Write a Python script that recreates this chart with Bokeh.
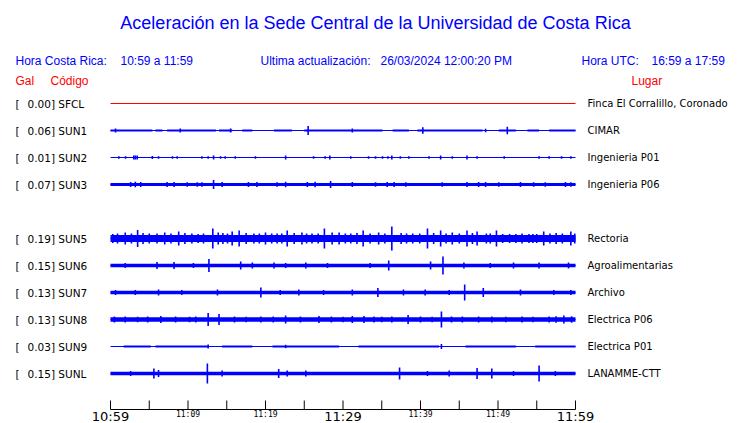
from bokeh.plotting import figure
from bokeh.models import Range1d, ColumnDataSource
from bokeh.core.properties import value
from bokeh.embed import file_html
from bokeh.resources import INLINE

# ---------------- data ----------------
codes = ["SFCL", "SUN1", "SUN2", "SUN3", "SUN5", "SUN6", "SUN7", "SUN8", "SUN9", "SUNL"]
rows = [0, 1, 2, 3, 5, 6, 7, 8, 9, 10]
gal = [0.00, 0.06, 0.01, 0.07, 0.19, 0.15, 0.13, 0.13, 0.03, 0.15]
places = ["Finca El Corralillo, Coronado", "CIMAR", "Ingenieria P01", "Ingenieria P06",
          "Rectoria", "Agroalimentarias", "Archivo", "Electrica P06", "Electrica P01",
          "LANAMME-CTT"]
# base (background) half-amplitude of each trace, 0 = plain line
base_amp = [0.0, 0.0, 0.0, 1.6, 3.5, 1.7, 1.7, 2.3, 0.0, 1.7]

# time axis (minutes after 10:59)
tick_minutes = [0, 5, 10, 15, 20, 25, 30, 35, 40, 45, 50, 55, 60]
big_tick_minutes = [0, 30, 60]
big_tick_labels = ["10:59", "11:29", "11:59"]
small_tick_minutes = [10, 20, 40, 50]
small_tick_labels = ["11:09", "11:19", "11:39", "11:49"]

# low-level activity blocks: start minute, end minute, half amplitude
sun1_blk_start = [0.0, 5.8, 7.3, 14.0, 17.0, 21.1, 25.0, 36.4, 39.6, 50.1, 53.8, 56.6]
sun1_blk_end = [5.4, 6.7, 13.6, 15.7, 18.3, 23.4, 35.1, 38.5, 48.0, 52.3, 55.3, 60.0]
sun1_blk_amp = [1.0] * 12
sun9_blk_start = [1.7, 5.8, 14.4, 20.9, 32.0, 45.8, 54.8]
sun9_blk_end = [5.2, 12.7, 18.3, 29.5, 42.4, 52.3, 60.0]
sun9_blk_amp = [0.9] * 7

# bursts: minute and half amplitude
sun1_sp_min = [0.65, 9.0, 15.5, 25.5, 31.2, 40.3, 48.4, 51.2]
sun1_sp_amp = [2.0, 2.0, 2.0, 4.5, 2.0, 3.3, 1.8, 3.7]
sun2_sp_min = [1.08, 1.94, 3.0, 3.2, 3.44, 5.4, 6.2, 8.0, 8.6, 11.8, 12.6, 13.3, 14.2, 14.8,
               16.1, 18.7, 22.6, 26.2, 27.7, 28.3, 31.0, 33.3, 34.2, 35.1, 35.8, 36.3, 37.4,
               38.5, 41.1, 42.6, 44.1, 46.0, 47.3, 50.8, 55.3, 56.6, 58.2, 59.4]
sun2_sp_amp = [1.2, 1.2, 2.0, 2.0, 2.0, 1.5, 1.2, 1.2, 1.2, 1.2, 1.2, 2.0, 1.2, 1.2,
               1.2, 1.2, 2.0, 1.2, 1.2, 2.0, 1.2, 1.2, 1.2, 1.2, 1.2, 2.0, 1.2,
               1.2, 1.2, 2.0, 1.2, 2.0, 1.2, 1.2, 1.2, 1.2, 1.2, 1.2]
sun3_sp_min = [2.6, 3.2, 3.9, 7.3, 8.2, 9.9, 11.2, 11.8, 13.3, 14.4, 17.8, 18.9, 21.5, 22.6,
               25.4, 26.4, 28.4, 31.2, 34.2, 35.7, 36.6, 38.1, 42.8, 46.0, 47.5, 48.4, 50.1,
               52.9, 54.6, 56.1, 58.7, 59.4]
sun3_sp_amp = [2.5, 2.7, 2.5, 2.5, 2.5, 2.3, 2.3, 2.3, 4.5, 2.5, 2.5, 2.5, 2.3, 2.7,
               2.5, 2.7, 3.5, 2.5, 2.3, 2.5, 2.5, 2.3, 2.3, 2.5, 2.5, 2.5, 2.3,
               2.5, 2.3, 2.3, 2.5, 2.3]
sun5_sp_min = [0.3, 0.9, 1.9, 2.7, 3.5, 4.2, 5.0, 6.0, 7.0, 7.8, 8.8, 9.6, 10.5, 11.3, 12.0,
               13.2, 13.9, 14.5, 15.1, 15.7, 16.6, 17.5, 18.5, 19.2, 20.0, 20.8, 21.5, 22.1,
               22.8, 23.7, 24.7, 25.3, 26.0, 26.8, 27.6, 28.6, 29.5, 30.3, 31.0, 31.8, 32.6,
               33.5, 34.6, 35.4, 36.3, 37.5, 38.2, 39.0, 39.9, 40.9, 41.7, 42.6, 43.3, 44.1,
               45.0, 46.0, 46.7, 47.3, 48.5, 49.0, 49.8, 50.6, 51.5, 52.3, 53.1, 54.0, 54.5,
               55.0, 55.9, 56.7, 57.5, 58.3, 59.4, 59.9]
sun5_sp_amp = [4.5, 5.0, 6.0, 5.0, 8.5, 5.5, 5.0, 5.0, 6.0, 5.0, 7.0, 5.5, 5.0, 4.5, 5.0,
               10.0, 6.0, 5.5, 5.0, 7.0, 8.0, 5.5, 5.0, 5.0, 6.0, 5.0, 5.0, 5.0,
               8.0, 5.5, 6.0, 5.0, 5.0, 5.0, 10.0, 6.0, 6.0, 5.0, 5.0, 5.5, 8.0,
               5.0, 6.0, 5.0, 12.0, 5.5, 5.0, 5.0, 5.0, 10.0, 5.5, 8.0, 5.0, 6.0,
               5.0, 8.0, 5.5, 7.0, 5.0, 5.0, 8.0, 4.5, 4.5, 4.5, 5.0, 4.5, 4.5,
               4.5, 7.0, 5.0, 5.5, 5.0, 7.0, 5.0]
sun6_sp_min = [1.9, 6.0, 8.2, 10.7, 12.7, 16.8, 18.3, 21.1, 22.6, 25.2, 28.0, 33.5, 35.9,
               41.3, 42.9, 45.6, 49.0, 52.0, 55.3, 59.1]
sun6_sp_amp = [2.5, 3.5, 3.5, 2.5, 6.5, 4.0, 3.0, 3.0, 2.5, 3.0, 2.5, 2.5, 5.0,
               4.0, 9.0, 3.0, 2.5, 3.0, 3.0, 3.0]
sun7_sp_min = [0.65, 3.2, 6.2, 9.2, 13.8, 19.4, 21.9, 24.3, 27.5, 31.2, 34.5, 37.8, 40.6,
               43.7, 45.7, 48.1, 52.9, 57.2, 59.4]
sun7_sp_amp = [2.5, 2.5, 3.0, 2.5, 3.0, 5.0, 2.5, 3.0, 2.5, 3.0, 4.5, 3.0, 3.0,
               2.5, 8.0, 4.5, 3.0, 2.5, 2.5]
sun8_sp_min = [0.5, 1.9, 3.5, 4.8, 6.5, 8.4, 10.2, 11.0, 12.6, 14.0, 16.0, 17.5, 19.4, 21.0,
               22.6, 24.5, 26.9, 28.5, 30.0, 31.2, 32.7, 34.0, 35.0, 36.3, 38.4, 40.0, 41.5,
               42.7, 44.0, 45.4, 47.5, 49.2, 51.0, 53.1, 54.5, 56.6, 57.5, 58.5, 59.5]
sun8_sp_amp = [3.0, 3.0, 2.8, 3.0, 3.5, 3.0, 2.8, 3.0, 6.5, 5.5, 3.0, 2.8, 3.0, 3.0,
               4.0, 3.0, 3.5, 3.0, 2.8, 3.5, 3.5, 3.0, 2.8, 3.0, 4.5, 3.0, 2.8,
               8.0, 3.0, 3.0, 3.0, 3.0, 2.8, 3.0, 2.8, 3.0, 3.2, 4.0, 3.2]
sun9_sp_min = [12.6, 22.6, 42.7]
sun9_sp_amp = [2.0, 1.7, 2.5]
sunl_sp_min = [2.6, 5.6, 6.2, 12.5, 14.4, 21.7, 22.8, 25.2, 37.3, 40.9, 43.7, 47.3, 49.2,
               52.0, 55.3, 57.4]
sunl_sp_amp = [2.5, 5.0, 3.5, 10.0, 3.0, 4.5, 3.0, 3.0, 6.0, 2.5, 3.0, 5.5, 5.0,
               2.5, 8.0, 2.5]

spikes = {
    "SUN1": (sun1_sp_min, sun1_sp_amp), "SUN2": (sun2_sp_min, sun2_sp_amp),
    "SUN3": (sun3_sp_min, sun3_sp_amp), "SUN5": (sun5_sp_min, sun5_sp_amp),
    "SUN6": (sun6_sp_min, sun6_sp_amp), "SUN7": (sun7_sp_min, sun7_sp_amp),
    "SUN8": (sun8_sp_min, sun8_sp_amp), "SUN9": (sun9_sp_min, sun9_sp_amp),
    "SUNL": (sunl_sp_min, sunl_sp_amp),
}
blocks = {
    "SUN1": (sun1_blk_start, sun1_blk_end, sun1_blk_amp),
    "SUN9": (sun9_blk_start, sun9_blk_end, sun9_blk_amp),
}

# ---------------- layout helpers ----------------
W, H = 740, 423
PX_PER_MIN = 7.75
ROW_PX = 27.0
AMP = 1.0 / ROW_PX  # amplitude units -> row units


def sx(px):  # canvas pixel -> minutes
    return (px - 110) / PX_PER_MIN


def sy(px):  # canvas pixel -> row units
    return (px - 103) / ROW_PX


BLUE = "#0000FF"
RED = "#FF0000"

p = figure(width=W, height=H, x_range=Range1d(sx(0), sx(W)),
           y_range=Range1d(sy(H), sy(0)), output_backend="svg",
           toolbar_location=None, x_axis_type=None, y_axis_type=None,
           min_border=0, outline_line_color=None)
p.grid.visible = False
p.background_fill_color = "white"
p.border_fill_color = "white"

# traces
t0, t1 = tick_minutes[0], tick_minutes[-1]
for code, r, b in zip(codes, rows, base_amp):
    color = RED if code == "SFCL" else BLUE
    p.line([t0, t1], [r, r], line_color=color, line_width=1)
    if b > 0:
        p.quad(left=[t0], right=[t1], bottom=[r - b * AMP], top=[r + b * AMP],
               fill_color=BLUE, line_color=None)
    if code in blocks:
        s, e, a = blocks[code]
        p.quad(left=s, right=e, bottom=[r - v * AMP for v in a],
               top=[r + v * AMP for v in a], fill_color=BLUE, line_color=None)
    if code in spikes:
        m, a = spikes[code]
        src = ColumnDataSource(dict(x=m, y0=[r - v * AMP for v in a],
                                    y1=[r + v * AMP for v in a]))
        p.segment(x0="x", x1="x", y0="y0", y1="y1", source=src,
                  line_color=BLUE, line_width=1.6)

# station labels
lab_font = value("DejaVu Sans")
p.text(x=[sx(15)] * len(rows), y=rows, text=["["] * len(rows), text_font=lab_font,
       text_font_size="10.5px", text_baseline="middle", text_color="black")
p.text(x=[sx(27)] * len(rows), y=rows,
       text=[f"{g:.2f}] {c}" for g, c in zip(gal, codes)], text_font=lab_font,
       text_font_size="10.5px", text_baseline="middle", text_color="black")
p.text(x=[sx(587)] * len(rows), y=rows, text=places, text_font=lab_font,
       text_font_size="10px", text_baseline="middle", text_color="black")

# title and header
hf = value("Liberation Sans")
p.text(x=[sx(375)], y=[sy(22)],
       text=["Aceleración en la Sede Central de la Universidad de Costa Rica"],
       text_font=hf, text_font_size="18px", text_align="center",
       text_baseline="middle", text_color=BLUE)
p.text(x=[sx(15), sx(120), sx(260), sx(380), sx(581), sx(651)], y=[sy(60)] * 6,
       text=["Hora Costa Rica:", "10:59 a 11:59", "Ultima actualización:",
             "26/03/2024 12:00:20 PM", "Hora UTC:", "16:59 a 17:59"],
       text_font=hf, text_font_size="12px", text_baseline="middle", text_color=BLUE)
p.text(x=[sx(15), sx(50), sx(631)], y=[sy(80)] * 3, text=["Gal", "Código", "Lugar"],
       text_font=hf, text_font_size="12px", text_baseline="middle", text_color=RED)

# time axis
ax_y = sy(409)
p.line([t0, t1], [ax_y, ax_y], line_color="black", line_width=1)
p.segment(x0=tick_minutes, x1=tick_minutes, y0=[sy(400)] * len(tick_minutes),
          y1=[ax_y] * len(tick_minutes), line_color="black", line_width=1)
p.text(x=big_tick_minutes, y=[sy(415.5)] * 3, text=big_tick_labels,
       text_font=value("DejaVu Sans"), text_font_size="13px", text_align="center",
       text_baseline="middle", text_color="black")
p.text(x=small_tick_minutes, y=[sy(414)] * 4, text=small_tick_labels,
       text_font=value("DejaVu Sans Mono"), text_font_size="8px", text_align="center",
       text_baseline="middle", text_color="black")

open("out.html", "w").write(file_html(p, INLINE))
